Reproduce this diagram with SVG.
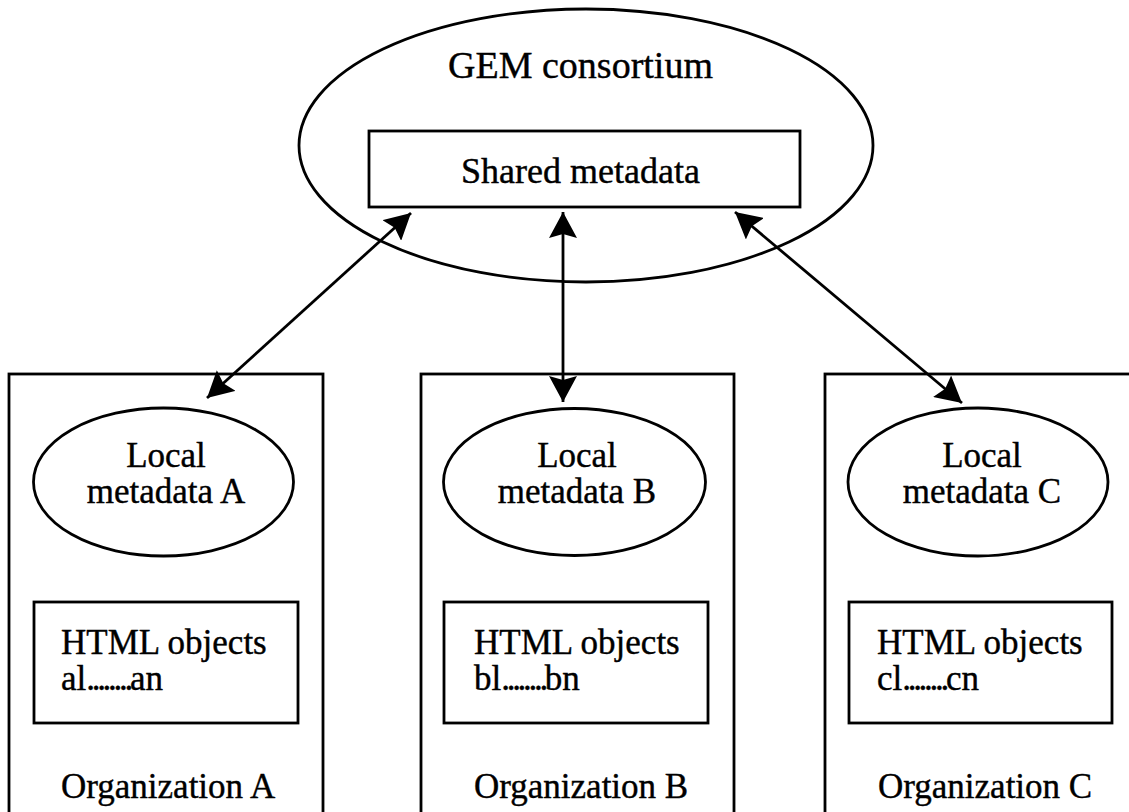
<svg xmlns="http://www.w3.org/2000/svg" width="1129" height="812" viewBox="0 0 1129 812">
<style>
.s{fill:none;stroke:#000;stroke-width:2.8}
.t{font-family:"Liberation Serif","Times New Roman",serif;font-size:35px;fill:#000;stroke:#000;stroke-width:0.4}
.c{text-anchor:middle}
.big{font-size:38px}
.mid{font-size:36px}
.dots{letter-spacing:-3.3px}
.conn{stroke:#000;stroke-width:2.8;fill:none;marker-start:url(#ah);marker-end:url(#ah)}
</style>
<defs>
<marker id="ah" viewBox="0 0 27 28" refX="26" refY="14" markerWidth="27" markerHeight="28" markerUnits="userSpaceOnUse" orient="auto-start-reverse">
<path d="M0,0 L26,14 L0,28 L4,14 Z" fill="#000"/>
</marker>
</defs>
<rect width="1129" height="812" fill="#fff"/>
<g id="gem">
<ellipse class="s" cx="586" cy="145.5" rx="287" ry="136.5"/>
<text class="t big c" x="580.5" y="78">GEM consortium</text>
</g>
<g id="shared">
<rect class="s" x="369" y="131" width="431" height="76"/>
<text class="t mid c" x="580.5" y="183">Shared metadata</text>
</g>
<g id="orgA">
<rect class="s" x="9" y="374" width="314" height="460"/>
<text class="t" x="61" y="798">Organization A</text>
</g>
<g id="orgB">
<rect class="s" x="421" y="374" width="313" height="460"/>
<text class="t" x="474" y="798">Organization B</text>
</g>
<g id="orgC">
<rect class="s" x="825" y="374" width="330" height="460"/>
<text class="t" x="878" y="798">Organization C</text>
</g>
<g id="localA">
<ellipse class="s" cx="163.5" cy="482" rx="130" ry="74"/>
<text class="t c" x="166" y="467">Local</text>
<text class="t c" x="166" y="503">metadata A</text>
</g>
<g id="localB">
<ellipse class="s" cx="574.5" cy="482" rx="131" ry="73.5"/>
<text class="t c" x="577" y="467">Local</text>
<text class="t c" x="577" y="503">metadata B</text>
</g>
<g id="localC">
<ellipse class="s" cx="978" cy="482" rx="130" ry="74"/>
<text class="t c" x="982" y="467">Local</text>
<text class="t c" x="982" y="503">metadata C</text>
</g>
<g id="htmlA">
<rect class="s" x="34" y="602" width="264" height="121"/>
<text class="t" x="61" y="654">HTML objects</text>
<text class="t" x="61" y="690">al<tspan class="dots">........</tspan>an</text>
</g>
<g id="htmlB">
<rect class="s" x="444" y="602" width="264" height="121"/>
<text class="t" x="474" y="654">HTML objects</text>
<text class="t" x="474" y="690">bl<tspan class="dots">........</tspan>bn</text>
</g>
<g id="htmlC">
<rect class="s" x="849" y="602" width="263" height="121"/>
<text class="t" x="877" y="654">HTML objects</text>
<text class="t" x="877" y="690">cl<tspan class="dots">........</tspan>cn</text>
</g>
<g id="connectors">
<line class="conn" x1="411" y1="213" x2="207" y2="398"/>
<line class="conn" x1="563" y1="212" x2="563" y2="402"/>
<line class="conn" x1="735" y1="212" x2="962" y2="403"/>
</g>
</svg>
